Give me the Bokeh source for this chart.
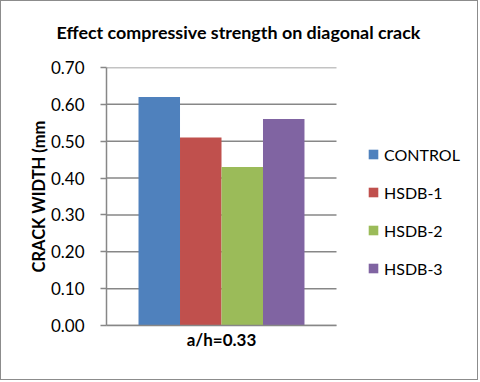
from bokeh.plotting import figure
from bokeh.models import (Range1d, Legend, LegendItem, ColumnDataSource, Title,
                          FixedTicker, NumeralTickFormatter)
from bokeh.embed import file_html
from bokeh.resources import INLINE

title = "Effect compressive strength on diagonal crack"
categories = ["a/h=0.33"]
series = ["CONTROL", "HSDB-1", "HSDB-2", "HSDB-3"]
values = [0.62, 0.51, 0.43, 0.56]
colors = ["#4F81BD", "#C0504D", "#9BBB59", "#8064A2"]
yticks = [0.0, 0.1, 0.2, 0.3, 0.4, 0.5, 0.6, 0.7]

FONT = "Lato"
GRAY = "#878787"

# numeric x: category k occupies [k, k+1]; extra room on the right holds the legend
n_cat = len(categories)
cat_centers = [k + 0.5 for k in range(n_cat)]
x_end = n_cat * 373 / 230

p = figure(width=478, height=380, x_range=Range1d(0, x_end),
           y_range=Range1d(0, yticks[-1]), output_backend="svg", toolbar_location=None,
           min_border_left=105, min_border_right=0, min_border_top=66, min_border_bottom=56,
           styles={"border": "1px solid #8c8c8c"})
p.outline_line_color = None
p.background_fill_color = "white"

# spacer (closest to the frame), then the title above it
p.add_layout(Title(text=" ", text_font_size="2px", standoff=3), "above")
p.add_layout(Title(text=title, align="left", vertical_align="middle", offset=-50,
                   standoff=34, text_font=FONT, text_font_size="17.9px",
                   text_font_style="bold", text_color="black"), "above")

# horizontal gridlines over the category area only
p.segment(x0=[0] * len(yticks), x1=[n_cat] * len(yticks), y0=yticks, y1=yticks,
          line_color=GRAY, line_width=1.5)

bw = 0.1804
items = []
for i, (s, v, c) in enumerate(zip(series, values, colors)):
    src = ColumnDataSource(dict(x=[xc + (i - 1.5) * bw for xc in cat_centers], top=[v]))
    r = p.vbar(x="x", top="top", width=bw, source=src, fill_color=c, line_color=None)
    items.append(LegendItem(label=s, renderers=[r]))

legend = Legend(items=items, location=(261, 47), glyph_width=12, glyph_height=12,
                label_height=20, spacing=18, padding=0, margin=0, border_line_color=None,
                background_fill_alpha=0, label_text_font=FONT, label_text_font_size="16px",
                label_standoff=5, label_text_color="black")
p.add_layout(legend, "center")

p.yaxis.ticker = FixedTicker(ticks=yticks)
p.yaxis.formatter = NumeralTickFormatter(format="0.00")
p.yaxis.major_label_text_font = FONT
p.yaxis.major_label_text_font_size = "17px"
p.yaxis.major_label_text_color = "black"
p.yaxis.major_label_standoff = 16
p.yaxis.major_tick_out = 6
p.yaxis.major_tick_in = 0
p.yaxis.minor_tick_line_color = None
p.yaxis.major_tick_line_color = GRAY
p.yaxis.axis_line_color = GRAY
p.yaxis.major_tick_line_width = 1.5
p.yaxis.axis_line_width = 1.5
p.yaxis.axis_label = "CRACK WIDTH (mm"
p.yaxis.axis_label_text_font = FONT
p.yaxis.axis_label_text_font_size = "16.5px"
p.yaxis.axis_label_text_font_style = "bold"
p.yaxis.axis_label_text_color = "black"
p.yaxis.axis_label_standoff = -1

p.xaxis.ticker = FixedTicker(ticks=cat_centers)
p.xaxis.major_label_overrides = {xc: c for xc, c in zip(cat_centers, categories)}
p.xaxis.bounds = (0, n_cat)
p.xaxis.major_tick_line_color = None
p.xaxis.minor_tick_line_color = None
p.xaxis.major_tick_out = 0
p.xaxis.major_tick_in = 0
p.xaxis.axis_line_color = GRAY
p.xaxis.axis_line_width = 1.5
p.xaxis.major_label_text_font = FONT
p.xaxis.major_label_text_font_size = "17px"
p.xaxis.major_label_text_font_style = "bold"
p.xaxis.major_label_text_color = "black"
p.xaxis.major_label_standoff = 3

p.xgrid.grid_line_color = None
p.ygrid.grid_line_color = None

open("out.html", "w").write(file_html(p, INLINE))
